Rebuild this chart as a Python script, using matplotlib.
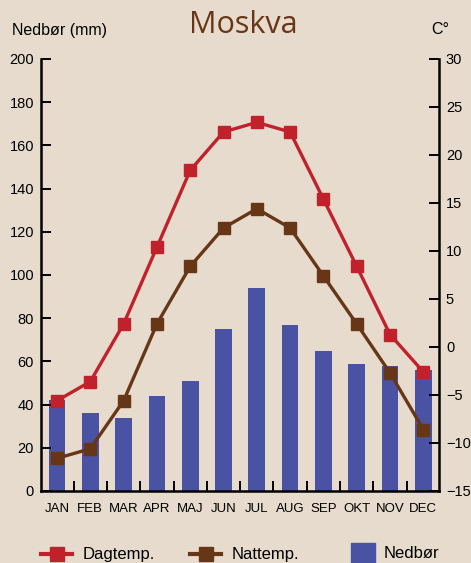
import numpy as np
import matplotlib
matplotlib.use("Agg")
import matplotlib.pyplot as plt
from matplotlib.lines import Line2D
from matplotlib.patches import Rectangle

# data
months = ["JAN", "FEB", "MAR", "APR", "MAJ", "JUN", "JUL", "AUG", "SEP", "OKT", "NOV", "DEC"]
nedbor = [42, 36, 34, 44, 51, 75, 94, 77, 65, 59, 58, 56]
dagtemp = [-5.6, -3.6, 2.4, 10.4, 18.4, 22.4, 23.4, 22.4, 15.4, 8.4, 1.3, -2.6]
nattemp = [-11.6, -10.6, -5.6, 2.4, 8.4, 12.4, 14.4, 12.4, 7.4, 2.4, -2.7, -8.6]

bg = "#E6DBCD"
c_red = "#C0212A"
c_brown = "#673617"
c_blue = "#4A52A3"

plt.rcParams["font.family"] = ["Liberation Sans", "DejaVu Sans"]

fig = plt.figure(figsize=(4.71, 5.63), dpi=100, facecolor=bg)
ax = fig.add_axes([41/471, 1-491/563, 398/471, 432/563])
ax.set_facecolor(bg)

x = np.arange(len(months))
ax.bar(x, nedbor, width=0.5, color=c_blue, zorder=1)
ax.set_xlim(-0.48, 11.47)
ax.set_ylim(0, 200)
ax.set_yticks(np.arange(0, 201, 20))
ax.set_xticks(x)
ax.set_xticklabels(months, fontsize=9.5)
ax.set_xticks(np.arange(0.5, 11, 1), minor=True)
ax.tick_params(axis="x", which="major", length=0, pad=9)
ax.tick_params(axis="x", which="minor", direction="in", length=7.5, width=1.4)
ax.tick_params(axis="y", direction="in", length=7.5, width=1.4, labelsize=10.5, pad=5)
for s in ["top", "right"]:
    ax.spines[s].set_visible(False)
for s in ["left", "bottom"]:
    ax.spines[s].set_linewidth(1.8)

ax2 = ax.twinx()
ax2.set_ylim(-15, 30)
ax2.set_yticks(np.arange(-15, 31, 5))
ax2.tick_params(axis="y", direction="in", length=7.5, width=1.4, labelsize=10.5, pad=5)
for s in ["top", "left", "bottom"]:
    ax2.spines[s].set_visible(False)
ax2.spines["right"].set_linewidth(1.8)

ax2.plot(x, dagtemp, color=c_red, lw=2.4, marker="s", ms=9, zorder=3, clip_on=False)
ax2.plot(x, nattemp, color=c_brown, lw=2.4, marker="s", ms=9, zorder=3, clip_on=False)

fig.text(243/471, 1-25/563, "Moskva", ha="center", va="center", fontsize=22,
         color=c_brown, family=["Open Sans", "DejaVu Sans"])
fig.text(12/471, 1-30/563, "Nedbør (mm)", ha="left", va="center", fontsize=11.5)
fig.text(431/471, 1-30/563, "C°", ha="left", va="center", fontsize=11.5)

# legend at the bottom (cut by the image edge like the original)
ly = 1-554/563
for x0, col, lab in [(41, c_red, "Dagtemp."), (190, c_brown, "Nattemp.")]:
    fig.add_artist(Line2D([x0/471, (x0+31)/471], [ly, ly], color=col, lw=3,
                          transform=fig.transFigure))
    fig.add_artist(Line2D([(x0+15.5)/471], [ly], color=col, marker="s", ms=10,
                          transform=fig.transFigure))
    fig.text((x0+42)/471, ly, lab, ha="left", va="center", fontsize=12)
fig.add_artist(Rectangle((351/471, 0), 24/471, 20/563, color=c_blue,
                         transform=fig.transFigure))
fig.text(384/471, ly, "Nedbør", ha="left", va="center", fontsize=12)

fig.savefig("out.png", dpi=100, facecolor=bg)
